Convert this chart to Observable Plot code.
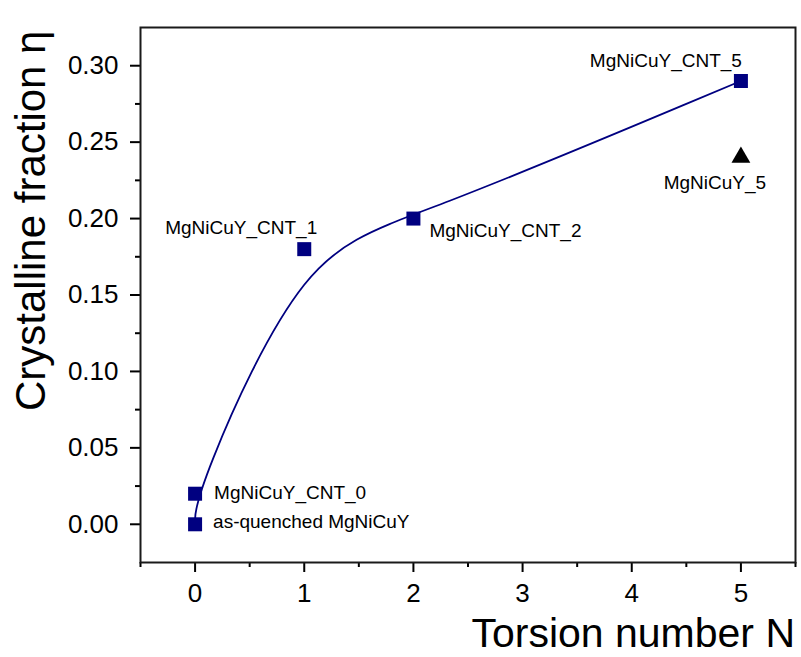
<!DOCTYPE html>
<html>
<head>
<meta charset="utf-8">
<script src="https://cdn.jsdelivr.net/npm/d3@7"></script>
<script src="https://cdn.jsdelivr.net/npm/@observablehq/plot@0.6"></script>
<style>
  html, body { margin: 0; padding: 0; background: #fff; }
  #chart svg { display: block; }
</style>
</head>
<body>
<div id="chart"></div>
<script>
// CNT-reinforced samples (square markers, fitted curve)
const cntSamples = ["as-quenched MgNiCuY", "MgNiCuY_CNT_0", "MgNiCuY_CNT_1", "MgNiCuY_CNT_2", "MgNiCuY_CNT_5"];
const cntTorsion = [0, 0, 1, 2, 5];
const cntEta = [0.00, 0.02, 0.18, 0.20, 0.29];

// Reference sample without CNT (triangle marker)
const refSamples = ["MgNiCuY_5"];
const refTorsion = [5];
const refEta = [0.24];

// Axis ticks
const xTicks = [0, 1, 2, 3, 4, 5];
const xMinorTicks = [-0.5, 0.5, 1.5, 2.5, 3.5, 4.5, 5.5];
const yTicks = [0.00, 0.05, 0.10, 0.15, 0.20, 0.25, 0.30];
const yMinorTicks = [0.025, 0.075, 0.125, 0.175, 0.225, 0.275];

const xTitle = "Torsion number N";
const yTitle = "Crystalline fraction η";

const cnt = cntSamples.map((s, i) => ({sample: s, n: cntTorsion[i], eta: cntEta[i]}));
const ref = refSamples.map((s, i) => ({sample: s, n: refTorsion[i], eta: refEta[i]}));

const navy = "#000080";
const font = "'Liberation Sans', Arial, Helvetica, sans-serif";
const labelSize = 19;
const pick = (name) => cnt.filter(d => d.sample === name);

const chart = Plot.plot({
  width: 801,
  height: 657,
  marginLeft: 140,
  marginTop: 27,
  marginRight: 6,
  marginBottom: 95,
  style: {fontFamily: font, background: "#fff", color: "#000"},
  x: {domain: [-0.5, 5.5]},
  y: {domain: [-0.025, 0.325]},
  marks: [
    Plot.axisY(yTicks, {tickSize: 10, tickPadding: 12, fontSize: 26, strokeWidth: 2, tickFormat: d => d.toFixed(2), label: null}),
    Plot.axisY(yMinorTicks, {tickSize: 5, strokeWidth: 2, tickFormat: () => "", label: null}),
    Plot.axisX(xTicks, {tickSize: 10, tickPadding: 11, fontSize: 26, strokeWidth: 2, tickFormat: d => String(d), label: null}),
    Plot.axisX(xMinorTicks, {tickSize: 5, strokeWidth: 2, tickFormat: () => "", label: null}),
    Plot.line(cnt, {x: "n", y: "eta", curve: "basis", stroke: navy, strokeWidth: 1.8}),
    Plot.dot(cnt, {x: "n", y: "eta", symbol: "square", r: 7.9, fill: navy, stroke: "none"}),
    Plot.dot(ref, {x: "n", y: "eta", symbol: "triangle", r: 7, fill: "#000", stroke: "none"}),
    Plot.text(pick("as-quenched MgNiCuY"), {x: "n", y: "eta", text: "sample", textAnchor: "start", dx: 18, dy: -2, fontSize: labelSize, fill: "#000"}),
    Plot.text(pick("MgNiCuY_CNT_0"), {x: "n", y: "eta", text: "sample", textAnchor: "start", dx: 19, dy: -1, fontSize: labelSize, fill: "#000"}),
    Plot.text(pick("MgNiCuY_CNT_1"), {x: "n", y: "eta", text: "sample", textAnchor: "end", dx: 13, dy: -21, fontSize: labelSize, fill: "#000"}),
    Plot.text(pick("MgNiCuY_CNT_2"), {x: "n", y: "eta", text: "sample", textAnchor: "start", dx: 16, dy: 12, fontSize: labelSize, fill: "#000"}),
    Plot.text(pick("MgNiCuY_CNT_5"), {x: "n", y: "eta", text: "sample", textAnchor: "end", dx: 1, dy: -20, fontSize: labelSize, fill: "#000"}),
    Plot.text(ref, {x: "n", y: "eta", text: "sample", textAnchor: "middle", dx: -26, dy: 25, fontSize: labelSize, fill: "#000"}),
    Plot.frame({stroke: "#1a1a1a", strokeWidth: 2})
  ]
});

const svg = d3.select(chart);
svg.append("text")
  .attr("x", 795).attr("y", 647)
  .attr("text-anchor", "end")
  .attr("font-family", font)
  .attr("font-size", 41)
  .attr("fill", "#000")
  .text(xTitle);
svg.append("text")
  .attr("transform", "translate(45,411) rotate(-90)")
  .attr("text-anchor", "start")
  .attr("font-family", font)
  .attr("font-size", 42)
  .attr("fill", "#000")
  .text(yTitle);

document.getElementById("chart").appendChild(chart);
</script>
</body>
</html>
